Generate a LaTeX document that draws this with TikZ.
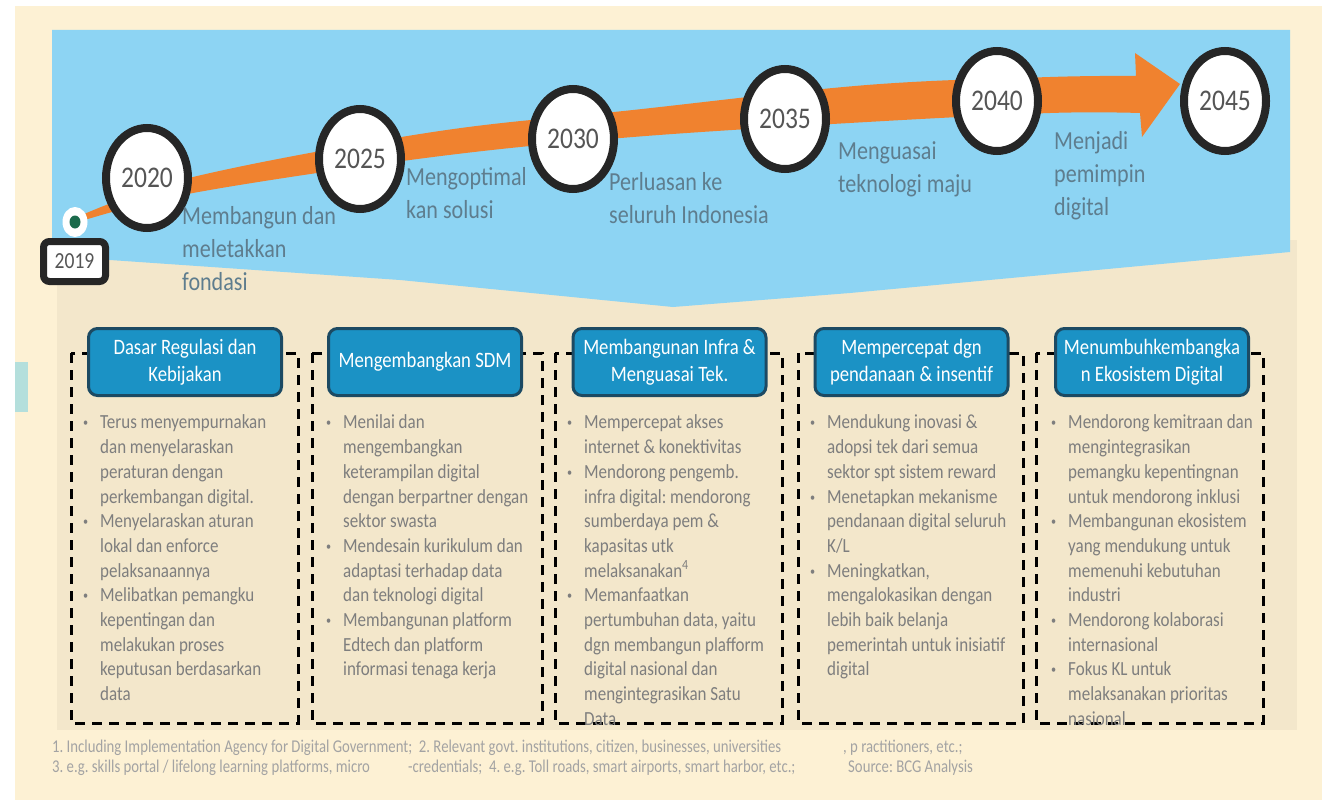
\documentclass[tikz,border=0pt]{standalone}
\usepackage{fontspec}
\setmainfont{Carlito}[FakeStretch=0.85]
\newfontfamily\notefont{Carlito}[FakeStretch=0.82]
\usepackage{enumitem}
\usetikzlibrary{shapes.geometric}
\setlist[itemize]{label=\raisebox{0.2ex}{\scalebox{0.6}{\textbullet}}, leftmargin=21pt, labelsep=12pt, itemsep=0pt, topsep=0pt, parsep=0pt, partopsep=0pt}
\newcommand\tightsp{\spaceskip=0.19em plus 0.1em minus 0.05em\relax}
\frenchspacing
\definecolor{pagecream}{HTML}{FDF1D4}
\definecolor{panelbeige}{HTML}{F3E7CB}
\definecolor{skyblue}{HTML}{8DD4F3}
\definecolor{arroworange}{HTML}{F0822F}
\definecolor{headblue}{HTML}{1B92C5}
\definecolor{headedge}{HTML}{1C4A63}
\definecolor{yeargray}{HTML}{555555}
\definecolor{tlgray}{HTML}{5E7D8E}
\definecolor{bulletgray}{HTML}{7E7E7E}
\definecolor{notegray}{HTML}{A3A3A3}
\definecolor{dotgreen}{HTML}{1B6B4C}
\definecolor{ringblack}{HTML}{262626}
\definecolor{scrapteal}{HTML}{B4DFDC}
\begin{document}
\begin{tikzpicture}[x=1pt, y=-1pt,
  yearnode/.style={ellipse, draw=ringblack, line width=8pt, fill=white, minimum width=82pt, minimum height=100pt, inner sep=0pt, text=yeargray, font=\fontsize{30}{30}\selectfont},
  tltext/.style={anchor=north west, align=left, inner sep=0pt, text=tlgray, font=\fontsize{26}{33}\selectfont},
  headbox/.style={draw=headedge, line width=3pt, fill=headblue, rounded corners=9pt, minimum width=193pt, minimum height=67pt, align=center, text=white, font=\fontsize{22}{27}\selectfont},
  colframe/.style={draw=black, line width=3pt, dash pattern=on 10pt off 7pt},
  listtxt/.style={anchor=north west, inner sep=0pt, text width=240pt, align=left, text=bulletgray, font=\fontsize{20}{24.7}\selectfont, execute at begin node=\tightsp},
  notetxt/.style={anchor=west, inner sep=0pt, text=notegray, font=\notefont\fontsize{18}{20}\selectfont}]
  \useasboundingbox (0,0) rectangle (1327,800);
  \fill[white] (0,0) rectangle (1327,800);
  \fill[pagecream] (15,6) rectangle (1322,800);
  \fill[panelbeige] (57,240) rectangle (1297,730);
  \fill[skyblue] (52,30) -- (1290,30) -- (1290,252) -- (850,293) -- (673,307) -- (400,280) -- (52,256) -- cycle;
  \fill[scrapteal] (15,362) rectangle (28,412);
  % timeline arrow
  \fill[arroworange] plot[smooth, tension=0.6] coordinates {(75,218) (193,177) (433,132) (633,110) (867,85) (1050,77) (1136,76)}
    -- (1135,53) -- (1180,84) -- (1142,137) --
    plot[smooth, tension=0.6] coordinates {(1140,113) (1050,113) (867,122) (633,137) (433,157) (193,193) (75,223)} -- cycle;
  \node[ellipse, fill=white, minimum width=25pt, minimum height=30pt, inner sep=0pt] (dot19) at (75,222) {};
  \node[ellipse, fill=dotgreen, minimum width=11pt, minimum height=13pt, inner sep=0pt] at (dot19.center) {};
  \node[draw=ringblack, line width=7pt, fill=white, rounded corners=6pt, minimum width=62pt, minimum height=40pt, inner sep=0pt, text=yeargray, font=\fontsize{23}{23}\selectfont] (y2019) at (74.5,261.5) {2019};
  \node[yearnode] (y2020) at (147,178) {2020};
  \node[yearnode] (y2025) at (360,159) {2025};
  \node[yearnode] (y2030) at (573,139) {2030};
  \node[yearnode] (y2035) at (785,119) {2035};
  \node[yearnode] (y2040) at (997,101) {2040};
  \node[yearnode] (y2045) at (1225,101) {2045};
  \node[tltext] (goal2020) at (182,206) {Membangun dan\\meletakkan\\fondasi};
  \node[tltext] (goal2025) at (406,167) {Mengoptimal\\kan solusi};
  \node[tltext] (goal2030) at (609,172) {Perluasan ke\\seluruh Indonesia};
  \node[tltext] (goal2035) at (838,141) {Menguasai\\teknologi maju};
  \node[tltext] (goal2040) at (1054,131) {Menjadi\\pemimpin\\digital};
  % pillars
  \draw[colframe] (71,353) rectangle (298,723);
  \draw[colframe] (312,353) rectangle (542,723);
  \draw[colframe] (555,353) rectangle (782,723);
  \draw[colframe] (798,353) rectangle (1023,723);
  \draw[colframe] (1036,353) rectangle (1263,723);
  \node[headbox] (head1) at (185,362) {Dasar Regulasi dan\\Kebijakan};
  \node[headbox] (head2) at (425,362) {Mengembangkan SDM};
  \node[headbox] (head3) at (669.5,362) {Membangunan Infra \&\\Menguasai Tek.};
  \node[headbox] (head4) at (911.5,362) {Mempercepat dgn\\pendanaan \& insentif};
  \node[headbox] (head5) at (1152,362) {Menumbuhkembangka\\n Ekosistem Digital};
  \node[listtxt] (list1) at (79,404) {\begin{itemize}
    \item Terus menyempurnakan\\dan menyelaraskan\\peraturan dengan\\perkembangan digital.
    \item Menyelaraskan aturan\\lokal dan enforce\\pelaksanaannya
    \item Melibatkan pemangku\\kepentingan dan\\melakukan proses\\keputusan berdasarkan\\data
  \end{itemize}};
  \node[listtxt] (list2) at (322,404) {\begin{itemize}
    \item Menilai dan\\mengembangkan\\keterampilan digital\\dengan berpartner dengan\\sektor swasta
    \item Mendesain kurikulum dan\\adaptasi terhadap data\\dan teknologi digital
    \item Membangunan platform\\Edtech dan platform\\informasi tenaga kerja
  \end{itemize}};
  \node[listtxt] (list3) at (563,404) {\begin{itemize}
    \item Mempercepat akses\\internet \& konektivitas
    \item Mendorong pengemb.\\infra digital: mendorong\\sumberdaya pem \&\\kapasitas utk\\melaksanakan\textsuperscript{4}
    \item Memanfaatkan\\pertumbuhan data, yaitu\\dgn membangun plafform\\digital nasional dan\\mengintegrasikan Satu\\Data
  \end{itemize}};
  \node[listtxt] (list4) at (806,404) {\begin{itemize}
    \item Mendukung inovasi \&\\adopsi tek dari semua\\sektor spt sistem reward
    \item Menetapkan mekanisme\\pendanaan digital seluruh\\K/L
    \item Meningkatkan,\\mengalokasikan dengan\\lebih baik belanja\\pemerintah untuk inisiatif\\digital
  \end{itemize}};
  \node[listtxt] (list5) at (1047,404) {\begin{itemize}
    \item Mendorong kemitraan dan\\mengintegrasikan\\pemangku kepentingnan\\untuk mendorong inklusi
    \item Membangunan ekosistem\\yang mendukung untuk\\memenuhi kebutuhan\\industri
    \item Mendorong kolaborasi\\internasional
    \item Fokus KL untuk\\melaksanakan prioritas\\nasional
  \end{itemize}};
  % footnotes
  \node[notetxt] (note1) at (52,748) {1. Including Implementation Agency for Digital Government;\ \ 2. Relevant govt. institutions, citizen, businesses, universities};
  \node[notetxt] (note2) at (843,748) {, p ractitioners, etc.;};
  \node[notetxt] (note3) at (52,768) {3. e.g. skills portal / lifelong learning platforms, micro};
  \node[notetxt] (note4) at (408,768) {-credentials;\ \ 4. e.g. Toll roads, smart airports, smart harbor, etc.;};
  \node[notetxt] (note5) at (848,768) {Source: BCG Analysis};
\end{tikzpicture}
\end{document}
